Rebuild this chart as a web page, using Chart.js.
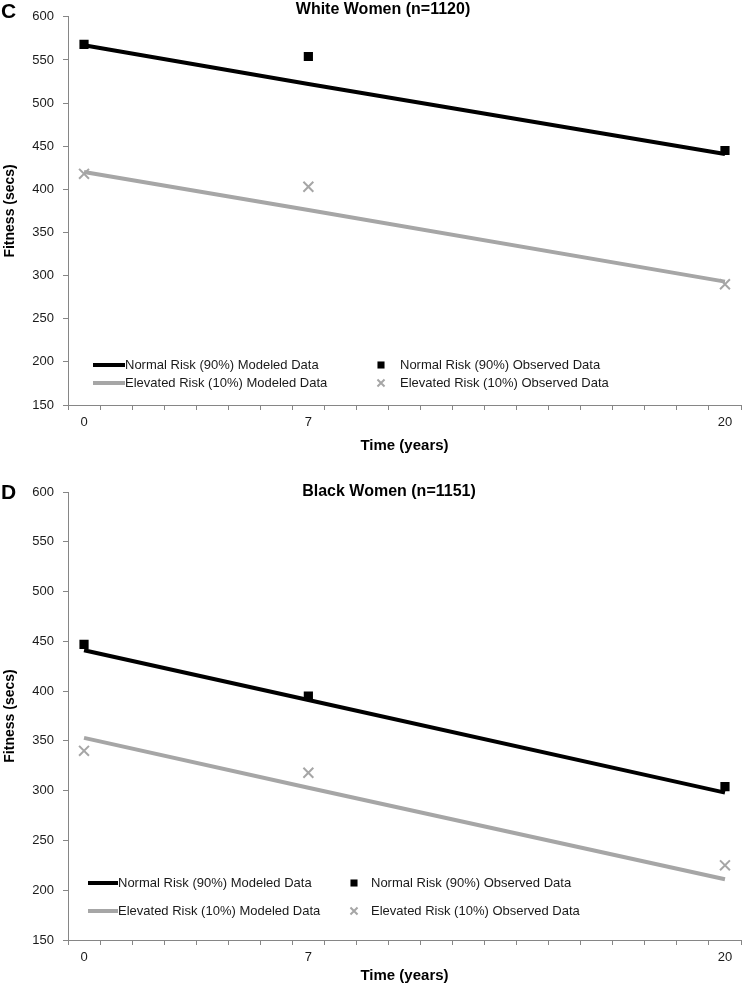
<!DOCTYPE html>
<html>
<head>
<meta charset="utf-8">
<title>Fitness over time by risk group</title>
<script src="https://cdn.jsdelivr.net/npm/chart.js@4.4.1/dist/chart.umd.min.js"></script>
<style>
  html, body { margin: 0; padding: 0; background: #fff; }
  #page { position: relative; width: 750px; height: 985px; }
  .panel { position: absolute; left: 0; width: 750px; }
  #panel-c { top: 0; height: 470px; }
  #panel-d { top: 470px; height: 515px; }
</style>
</head>
<body>
<div id="page">
  <div class="panel" id="panel-c"><canvas id="chartC"></canvas></div>
  <div class="panel" id="panel-d"><canvas id="chartD"></canvas></div>
</div>
<script>
// Time axis categories (years); only some of them carry a label
const years = [0, 1, 2, 3, 4, 5, 6, 7, 8, 9, 10, 11, 12, 13, 14, 15, 16, 17, 18, 19, 20];
const labelledYears = [0, 7, 20];
const examYears = [0, 7, 20];

// Fitness axis
const fitnessMin = 150;
const fitnessMax = 600;
const fitnessStep = 50;

const seriesNames = [
    'Normal Risk (90%) Modeled Data',
    'Elevated Risk (10%) Modeled Data',
    'Normal Risk (90%) Observed Data',
    'Elevated Risk (10%) Observed Data'
];

// Panel C - White Women (n=1120)
const whiteNormalModeled = [567, 522, 441];
const whiteElevatedModeled = [420, 376, 293];
const whiteNormalObserved = [568, 554, 445];
const whiteElevatedObserved = [418, 403, 290];

// Panel D - Black Women (n=1151)
const blackNormalModeled = [441, 391, 298];
const blackElevatedModeled = [353, 303, 211];
const blackNormalObserved = [447, 395, 304];
const blackElevatedObserved = [340, 318, 225];

// Colours and fonts
const BLACK = '#000000';
const GRAY = '#a6a6a6';
const AXIS_GRAY = '#868686';
const TEXT = '#1a1a1a';
const FONT = '"Liberation Sans", Arial, sans-serif';

function toPoints(values) {
    return examYears.map((yr, i) => ({ x: yr, y: values[i] }));
}

function makeDatasets(normalMod, elevMod, normalObs, elevObs) {
    return [
        {
            role: 'normalObs', label: seriesNames[2], data: toPoints(normalObs),
            showLine: false, order: 0,
            pointStyle: 'rect', pointRadius: 6.5, pointBorderWidth: 0,
            pointBackgroundColor: BLACK, pointBorderColor: BLACK
        },
        {
            role: 'elevObs', label: seriesNames[3], data: toPoints(elevObs),
            showLine: false, order: 0,
            pointStyle: 'crossRot', pointRadius: 7, pointBorderWidth: 2,
            pointBackgroundColor: GRAY, pointBorderColor: GRAY
        },
        {
            role: 'normalMod', label: seriesNames[0], data: toPoints(normalMod),
            borderColor: BLACK, borderWidth: 4, pointRadius: 0, tension: 0, order: 1
        },
        {
            role: 'elevMod', label: seriesNames[1], data: toPoints(elevMod),
            borderColor: GRAY, borderWidth: 4, pointRadius: 0, tension: 0, order: 1
        }
    ];
}

// Legend drawn inside the plot area, two columns like the original
const panelLegend = {
    id: 'panelLegend',
    afterDraw(chart, args, opts) {
        const ctx = chart.ctx;
        const find = role => chart.data.datasets.find(d => d.role === role);
        ctx.save();
        ctx.font = opts.font;
        ctx.textBaseline = 'middle';
        ctx.textAlign = 'left';

        // modeled lines
        ['normalMod', 'elevMod'].forEach((role, row) => {
            const ds = find(role);
            const y = opts.rows[row];
            ctx.strokeStyle = ds.borderColor;
            ctx.lineWidth = ds.borderWidth;
            ctx.beginPath();
            ctx.moveTo(opts.lineStart, y);
            ctx.lineTo(opts.lineEnd, y);
            ctx.stroke();
            ctx.fillStyle = TEXT;
            ctx.fillText(ds.label, opts.lineEnd, y);
        });

        // observed markers
        ['normalObs', 'elevObs'].forEach((role, row) => {
            const ds = find(role);
            const y = opts.rows[row];
            ctx.fillStyle = ds.pointBackgroundColor;
            ctx.strokeStyle = ds.pointBorderColor;
            ctx.lineWidth = ds.pointBorderWidth;
            Chart.helpers.drawPoint(ctx, {
                pointStyle: ds.pointStyle,
                radius: opts.markerRadius,
                borderWidth: ds.pointBorderWidth,
                rotation: 0
            }, opts.markerX, y);
            ctx.fillStyle = TEXT;
            ctx.fillText(ds.label, opts.textX, y);
        });
        ctx.restore();
    }
};

// Panel letter and panel title
const panelHeading = {
    id: 'panelHeading',
    afterDraw(chart, args, opts) {
        const ctx = chart.ctx;
        ctx.save();
        ctx.fillStyle = '#000';
        ctx.textBaseline = 'alphabetic';
        ctx.textAlign = 'left';
        ctx.font = 'bold 21px ' + FONT;
        ctx.fillText(opts.letter, 1, opts.letterY);

        ctx.textBaseline = 'middle';
        ctx.textAlign = 'center';
        ctx.font = 'bold 16px ' + FONT;
        ctx.fillText(opts.title, opts.titleX, opts.titleY);
        ctx.restore();
    }
};

function makeChart(canvasId, datasets, layout) {
    const ctx = document.getElementById(canvasId).getContext('2d');
    return new Chart(ctx, {
        type: 'line',
        data: { labels: years, datasets: datasets },
        plugins: [panelLegend, panelHeading],
        options: {
            responsive: true,
            maintainAspectRatio: false,
            animation: false,
            layout: { padding: { top: layout.padTop, right: 2, left: 0, bottom: 0 } },
            plugins: {
                legend: { display: false },
                tooltip: { enabled: false },
                panelLegend: layout.legend,
                panelHeading: layout.heading
            },
            scales: {
                x: {
                    type: 'category',
                    offset: true,
                    afterFit(scale) { scale.height = layout.xHeight; },
                    grid: {
                        offset: true,
                        drawOnChartArea: false,
                        drawTicks: true,
                        tickLength: 5,
                        color: AXIS_GRAY
                    },
                    border: { display: true, color: AXIS_GRAY, width: 1 },
                    ticks: {
                        autoSkip: false,
                        maxRotation: 0,
                        padding: 5,
                        color: TEXT,
                        font: { family: FONT, size: 13 },
                        callback: function(value) {
                            const yr = this.getLabelForValue(value);
                            return labelledYears.includes(Number(yr)) ? String(yr) : '';
                        }
                    },
                    title: {
                        display: true,
                        text: 'Time (years)',
                        color: '#000',
                        font: { family: FONT, size: 15, weight: 'bold' },
                        padding: { top: 0, bottom: layout.xTitlePad }
                    }
                },
                y: {
                    min: fitnessMin,
                    max: fitnessMax,
                    afterFit(scale) { scale.width = 68; },
                    grid: {
                        drawOnChartArea: false,
                        drawTicks: true,
                        tickLength: 5,
                        color: AXIS_GRAY
                    },
                    border: { display: true, color: AXIS_GRAY, width: 1 },
                    ticks: {
                        stepSize: fitnessStep,
                        padding: 9,
                        color: TEXT,
                        font: { family: FONT, size: 13 }
                    },
                    title: {
                        display: true,
                        text: 'Fitness (secs)',
                        color: '#000',
                        font: { family: FONT, size: 14, weight: 'bold' },
                        padding: { top: 2, bottom: 0 }
                    }
                }
            }
        }
    });
}

makeChart('chartC',
    makeDatasets(whiteNormalModeled, whiteElevatedModeled, whiteNormalObserved, whiteElevatedObserved),
    {
        padTop: 8,
        xHeight: 65,
        xTitlePad: 15,
        legend: {
            font: '13px ' + FONT,
            rows: [365, 383],
            lineStart: 93, lineEnd: 125,
            markerX: 381, textX: 400, markerRadius: 5
        },
        heading: { letter: 'C', letterY: 18, title: 'White Women (n=1120)', titleX: 383, titleY: 10 }
    });

makeChart('chartD',
    makeDatasets(blackNormalModeled, blackElevatedModeled, blackNormalObserved, blackElevatedObserved),
    {
        padTop: 22,
        xHeight: 45,
        xTitlePad: 0,
        legend: {
            font: '13px ' + FONT,
            rows: [413, 441],
            lineStart: 88, lineEnd: 118,
            markerX: 354, textX: 371, markerRadius: 5
        },
        heading: { letter: 'D', letterY: 29, title: 'Black Women (n=1151)', titleX: 389, titleY: 22 }
    });
</script>
</body>
</html>
